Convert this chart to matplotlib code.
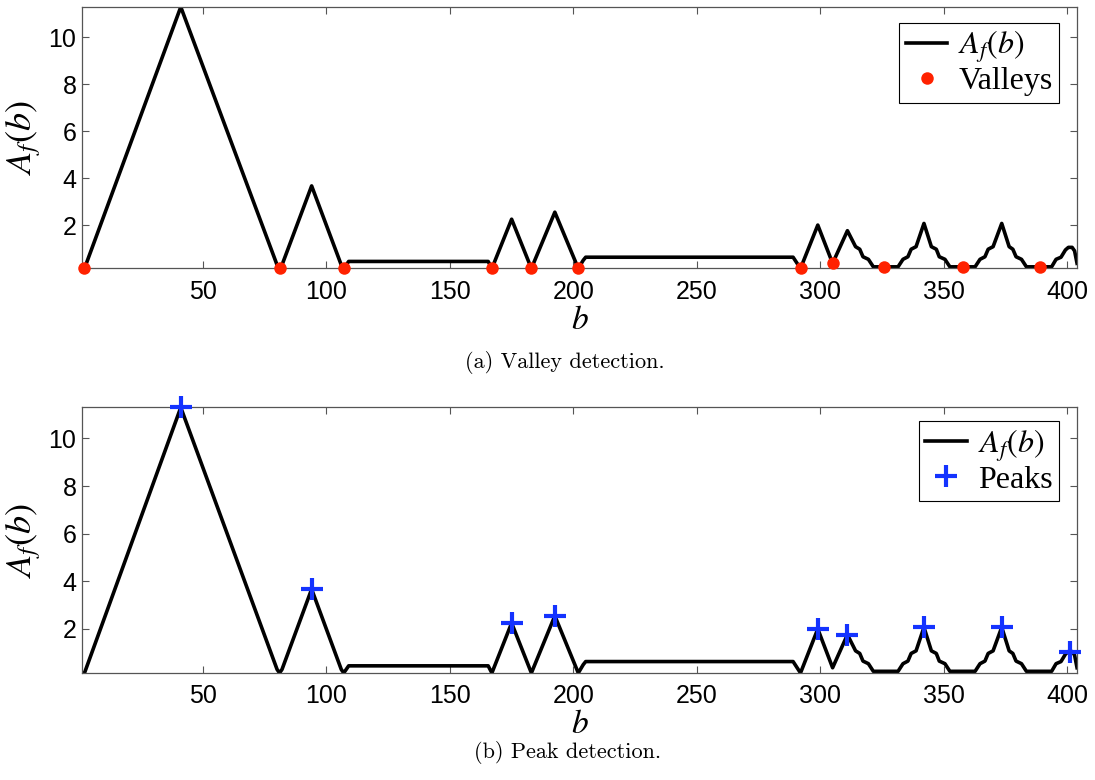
import matplotlib as mpl
import matplotlib.pyplot as plt

mpl.rcParams['mathtext.fontset'] = 'stix'
mpl.rcParams['font.family'] = ['Liberation Sans', 'DejaVu Sans']

# curve A_f(b)
b = [1, 2, 41, 80, 81, 82, 94, 106, 107, 108, 109, 165.5, 167, 175, 183, 192.5,
     202, 204, 205, 289, 292, 299, 305, 311, 314.3, 316, 317.3, 319.5, 321.5,
     331.5, 333.5, 335.5, 336.8, 338.8, 342, 345, 347, 348.2, 350.5, 352.5,
     362.7, 364.7, 366.7, 368, 370, 373.5, 376.5, 378, 379.3, 381.5, 383.5,
     393.7, 395.5, 397.5, 399.3, 400.5, 402, 403, 404]
A = [0.15, 0.15, 11.3, 0.3, 0.15, 0.3, 3.67, 0.3, 0.15, 0.3, 0.45, 0.45, 0.15, 2.25, 0.15, 2.55,
     0.15, 0.5, 0.63, 0.63, 0.15, 2.0, 0.37, 1.76, 1.08, 0.97, 0.65, 0.54, 0.22,
     0.22, 0.54, 0.65, 0.97, 1.08, 2.07, 1.08, 0.97, 0.65, 0.54, 0.22,
     0.22, 0.54, 0.65, 0.97, 1.08, 2.07, 1.08, 0.97, 0.65, 0.54, 0.22,
     0.22, 0.54, 0.63, 0.94, 1.05, 1.05, 0.9, 0.37]

valley_b = [2, 81, 107, 167, 183, 202, 292, 305, 326, 358, 389]
valley_A = [0.15, 0.15, 0.15, 0.15, 0.15, 0.15, 0.15, 0.37, 0.22, 0.22, 0.22]

peak_b = [41, 94, 175, 192.5, 299, 311, 342, 373.5, 401]
peak_A = [11.3, 3.67, 2.25, 2.55, 2.0, 1.76, 2.07, 2.07, 1.05]

xticks = [50, 100, 150, 200, 250, 300, 350, 400]
yticks = [2, 4, 6, 8, 10]

ax_color = '#555555'
red = '#ff2200'
blue = '#1433ff'


def set_ax_props(ax):
    ax.set_xlim(1, 404)
    ax.set_ylim(min(A), max(A))
    ax.set_xticks(xticks)
    ax.set_yticks(yticks)
    ax.tick_params(direction='in', length=5, width=0.8, color=ax_color,
                   labelsize=18, top=True, right=True, labelcolor='k')
    ax.tick_params(axis='x', pad=8)
    ax.tick_params(axis='y', pad=4)
    for spine in ax.spines.values():
        spine.set_color(ax_color)
        spine.set_linewidth(0.9)
    ax.set_xlabel('$b$', fontsize=24, labelpad=1)
    ax.set_ylabel('$A_f(b)$', fontsize=26, labelpad=4)
    return ax


def legend(ax, top):
    leg = ax.legend(loc='upper right', bbox_to_anchor=(0.982, top), borderaxespad=0,
                    fancybox=False, edgecolor='k', framealpha=1,
                    prop=dict(family='Liberation Serif', size=23),
                    handlelength=1.3, handletextpad=0.35, borderpad=0.2,
                    labelspacing=0.05)
    leg.get_frame().set_linewidth(0.8)
    return leg


fig = plt.figure(figsize=(10.95, 7.8), dpi=100)
ax1 = set_ax_props(fig.add_axes([0.0749, 0.6558, 0.9087, 0.3353]))
ax2 = set_ax_props(fig.add_axes([0.0749, 0.1372, 0.9087, 0.3404]))

ax1.plot(b, A, color='k', lw=2.6, label='$A_f(b)$')
ax1.plot(valley_b, valley_A, 'o', color=red, ms=9, mec='none', label='Valleys',
         clip_on=False, zorder=5)
legend(ax1, 0.94)

ax2.plot(b, A, color='k', lw=2.6, label='$A_f(b)$')
ax2.plot(peak_b, peak_A, '+', color=blue, ms=16, mew=3, label='Peaks',
         clip_on=False, zorder=5)
legend(ax2, 0.949)

fig.text(0.516, 1 - 362 / 780, '(a) Valley detection.', family='cmr10', size=16,
         ha='center', va='center')
fig.text(0.518, 1 - 752 / 780, '(b) Peak detection.', family='cmr10', size=16,
         ha='center', va='center')

fig.savefig('out.png', dpi=100)
